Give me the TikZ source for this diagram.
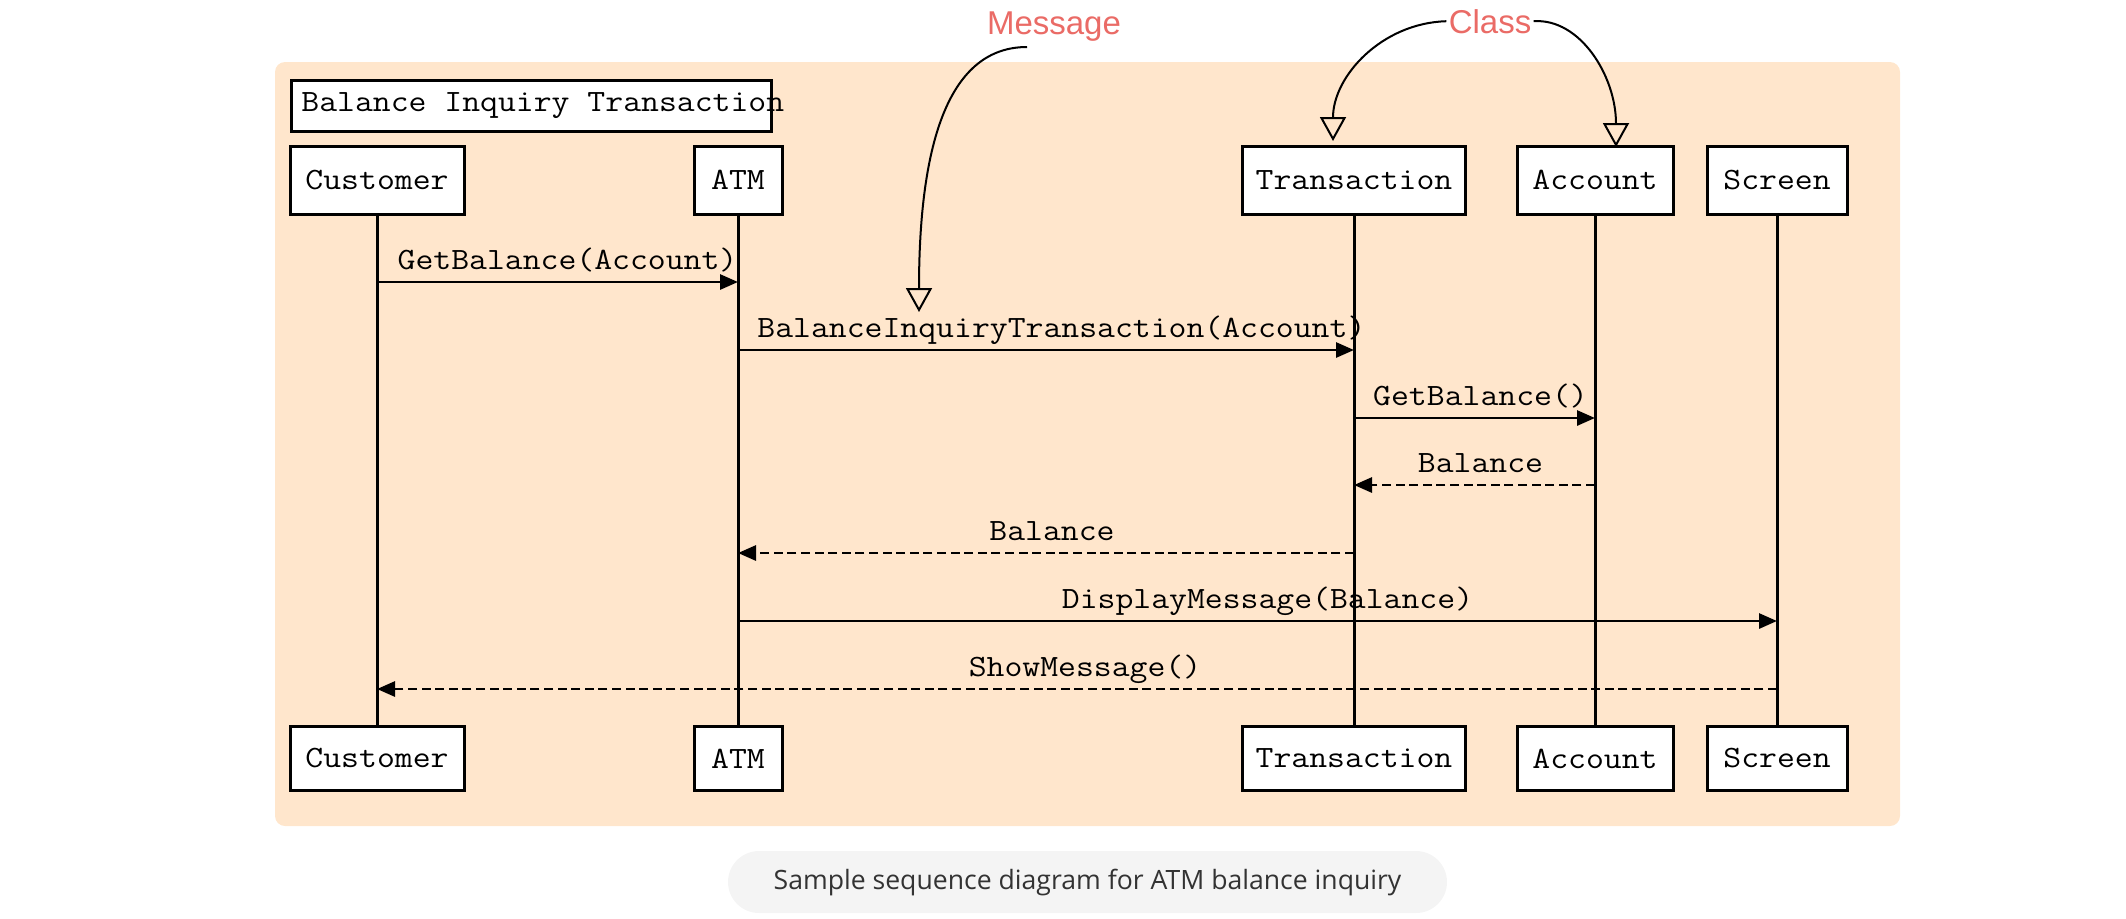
\documentclass[tikz,border=0pt]{standalone}
\usepackage{fontspec}
\setmainfont{Liberation Sans}
\newfontfamily\monof[FakeStretch=1.12]{Latin Modern Mono}
\newfontfamily\capf{Open Sans}
\usetikzlibrary{arrows.meta}
\definecolor{peach}{HTML}{FFE6CC}
\definecolor{annot}{HTML}{EA6B66}
\definecolor{pillgray}{HTML}{F4F4F4}
\definecolor{captxt}{HTML}{333333}
\begin{document}
\begin{tikzpicture}[x=0.5pt,y=-0.5pt,
  mono/.style={font=\monof\fontsize{15.5}{18}\selectfont},
  obj/.style={mono, draw=black, fill=white, line width=1.5pt, inner sep=0pt},
  topobj/.style={obj, minimum height=34pt},
  botobj/.style={obj, minimum height=32pt},
  life/.style={line width=1.5pt},
  msg/.style={line width=1.45pt, -{Triangle[length=9pt,width=7.5pt]}},
  ret/.style={msg, dash pattern=on 4.5pt off 2.3pt},
  lbl/.style={mono, anchor=base, inner sep=0pt, yshift=6.5pt, xshift=5pt},
  ann/.style={font=\fontsize{16.5}{19}\selectfont, text=annot, inner sep=1pt, anchor=base},
  annarrow/.style={line width=1pt, -{Triangle[open,length=12pt,width=13pt]}}
]
\useasboundingbox (0,0) rectangle (2126,918);
% background frame
\fill[peach, rounded corners=5pt] (275,62) rectangle (1900,826);

% title
\node[obj, minimum width=240pt, minimum height=25.5pt, anchor=north west] (title) at (290,79) {};
\node[mono, anchor=west, inner sep=0pt] (titletxt) at ([xshift=5.5pt]title.west) {Balance Inquiry Transaction};

% top objects
\node[topobj, minimum width=87pt]   (cT)  at (377,180)  {Customer};
\node[topobj, minimum width=44pt]   (aT)  at (738,180)  {ATM};
\node[topobj, minimum width=111.5pt] (tT) at (1354,180) {Transaction};
\node[topobj, minimum width=78pt]   (acT) at (1595,180) {Account};
\node[topobj, minimum width=70pt]   (sT)  at (1777,180) {Screen};

% bottom objects
\node[botobj, minimum width=87pt]   (cB)  at (377,758.5)  {Customer};
\node[botobj, minimum width=44pt]   (aB)  at (738,758.5)  {ATM};
\node[botobj, minimum width=111.5pt] (tB) at (1354,758.5) {Transaction};
\node[botobj, minimum width=78pt]   (acB) at (1595,758.5) {Account};
\node[botobj, minimum width=70pt]   (sB)  at (1777,758.5) {Screen};

% lifelines
\draw[life] (cT) -- (cB);
\draw[life] (aT) -- (aB);
\draw[life] (tT) -- (tB);
\draw[life] (acT) -- (acB);
\draw[life] (sT) -- (sB);

% message rows
\coordinate (m1) at (0,282);
\coordinate (m2) at (0,350);
\coordinate (m3) at (0,418);
\coordinate (m4) at (0,485);
\coordinate (m5) at (0,553);
\coordinate (m6) at (0,621);
\coordinate (m7) at (0,689);

\draw[msg] (cT |- m1) -- node[lbl] {GetBalance(Account)} (aT |- m1);
\draw[msg] (aT |- m2) -- node[lbl, xshift=2.7pt] {BalanceInquiryTransaction(Account)} (tT |- m2);
\draw[msg] (tT |- m3) -- node[lbl, xshift=-2pt] {GetBalance()} (acT |- m3);
\draw[ret] (acT |- m4) -- node[lbl, xshift=-2pt] {Balance} (tT |- m4);
\draw[ret] (tT |- m5) -- node[lbl, xshift=-2pt] {Balance} (aT |- m5);
\draw[msg] (aT |- m6) -- node[lbl] {DisplayMessage(Balance)} (sT |- m6);
\draw[ret] (sT |- m7) -- node[lbl, xshift=-1pt] {ShowMessage()} (cT |- m7);

% annotations
\node[ann] (msgL) at (1054,34) {Message};
\coordinate (msgS) at (1027,47);
\coordinate (msgE) at (919,312);
\draw[annarrow] (msgS) .. controls (950,47) and (919,140) .. (msgE);

\node[ann] (clsL) at (1490,33) {Class};
\coordinate (clsE1) at (1333,141);
\coordinate (clsE2) at (1616,147);
\draw[annarrow] (clsL.west) .. controls (1382,23) and (1333,76) .. (clsE1);
\draw[annarrow] (clsL.east) .. controls (1580,18) and (1616,76) .. (clsE2);

% caption
\node[fill=pillgray, rounded corners=15.5pt, minimum width=359.5pt, minimum height=31pt, inner sep=0pt, text=captxt, font=\capf\fontsize{13.3}{16}\selectfont] (cap) at (1087.5,882) {Sample sequence diagram for ATM balance inquiry};
\end{tikzpicture}
\end{document}
